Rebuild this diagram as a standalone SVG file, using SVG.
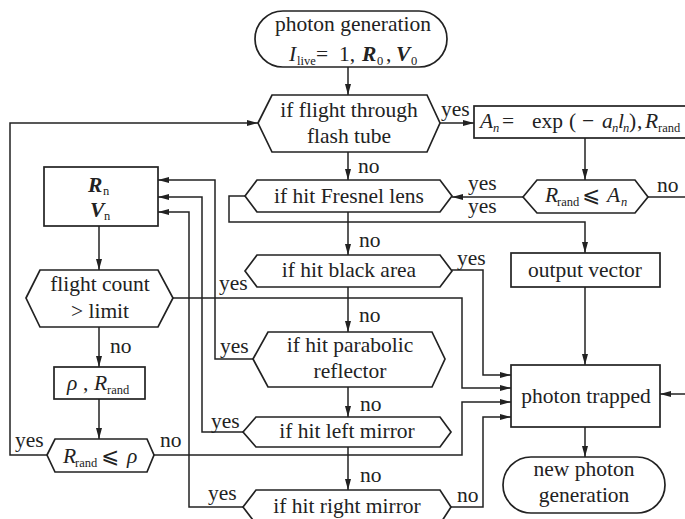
<svg xmlns="http://www.w3.org/2000/svg" width="685" height="519" viewBox="0 0 685 519">
<style>
text{font-family:"Liberation Serif","DejaVu Serif","DejaVu Sans",serif;font-size:21.5px;fill:#222}
.c{text-anchor:middle}
.i{font-style:italic}
.bi{font-style:italic;font-weight:bold}
.s{font-size:12.5px}
.shape{fill:#fff;stroke:#222;stroke-width:1.7}
.ln{fill:none;stroke:#222;stroke-width:1.5}
</style>
<defs>
<marker id="ah" markerUnits="userSpaceOnUse" markerWidth="11" markerHeight="7" refX="11" refY="3.5" orient="auto">
<path d="M0,0.5 L11,3.5 L0,6.5 z" fill="#222"/>
</marker>
</defs>
<rect width="685" height="519" fill="#fff"/>

<g id="connectors">
<path class="ln" d="M348,67 V95" marker-end="url(#ah)"/>
<path class="ln" d="M348,152 V180" marker-end="url(#ah)"/>
<path class="ln" d="M440,123 H474" marker-end="url(#ah)"/>
<path class="ln" d="M585,138 V180" marker-end="url(#ah)"/>
<path class="ln" d="M523,197 H452" marker-end="url(#ah)"/>
<path class="ln" d="M648,197 H685"/>
<path class="ln" d="M685,394 H660" marker-end="url(#ah)"/>
<path class="ln" d="M245,196 H229 V222 H585 V253" marker-end="url(#ah)"/>
<path class="ln" d="M348,212 V255" marker-end="url(#ah)"/>
<path class="ln" d="M452,270 H483 V375 H511" marker-end="url(#ah)"/>
<path class="ln" d="M348,287 V332" marker-end="url(#ah)"/>
<path class="ln" d="M253,359 H215 V180 H158" marker-end="url(#ah)"/>
<path class="ln" d="M348,387 V417" marker-end="url(#ah)"/>
<path class="ln" d="M243,432 H202 V197 H158" marker-end="url(#ah)"/>
<path class="ln" d="M348,447 V490" marker-end="url(#ah)"/>
<path class="ln" d="M243,507 H189 V212 H158" marker-end="url(#ah)"/>
<path class="ln" d="M451,507 H483 V417 H511" marker-end="url(#ah)"/>
<path class="ln" d="M99,226 V270" marker-end="url(#ah)"/>
<path class="ln" d="M173,298 H462 V388 H511" marker-end="url(#ah)"/>
<path class="ln" d="M99,327 V367" marker-end="url(#ah)"/>
<path class="ln" d="M99,399 V439" marker-end="url(#ah)"/>
<path class="ln" d="M154,455 H462 V402 H511" marker-end="url(#ah)"/>
<path class="ln" d="M47,455 H10 V123 H258" marker-end="url(#ah)"/>
<path class="ln" d="M585,287 V365" marker-end="url(#ah)"/>
<path class="ln" d="M585,427 V457" marker-end="url(#ah)"/>
<g id="labels">
<text x="358" y="173">no</text>
<text x="441" y="116">yes</text>
<text x="468" y="190">yes</text>
<text x="657" y="192">no</text>
<text x="468" y="213">yes</text>
<text x="359" y="247">no</text>
<text x="457" y="265">yes</text>
<text x="359" y="322">no</text>
<text x="220" y="353">yes</text>
<text x="360" y="411">no</text>
<text x="211" y="428">yes</text>
<text x="360" y="482">no</text>
<text x="208" y="500">yes</text>
<text x="457" y="502">no</text>
<text x="219" y="290">yes</text>
<text x="110" y="353">no</text>
<text x="160" y="447">no</text>
<text x="15" y="447">yes</text>
</g>
</g>

<g id="start">
<rect class="shape" x="255" y="11" width="192" height="56" rx="28" ry="28"/>
<text class="c" x="353" y="31">photon generation</text>
<text y="61"><tspan class="i" x="289">I</tspan><tspan class="s" x="297" dy="4">live</tspan><tspan x="316" dy="-4">=</tspan><tspan x="339">1,</tspan><tspan class="bi" x="362">R</tspan><tspan class="s" x="377" dy="4">0</tspan><tspan x="386" dy="-4">,</tspan><tspan class="bi" x="396">V</tspan><tspan class="s" x="411" dy="4">0</tspan></text>
</g>

<g id="flash-tube">
<polygon class="shape" points="258,123 272,95 427,95 440,123 427,152 272,152"/>
<text class="c" x="349" y="117">if flight through</text>
<text class="c" x="349" y="143">flash tube</text>
</g>

<g id="absorb">
<rect class="shape" x="474" y="106" width="230" height="32"/>
<text y="128"><tspan class="i" x="480">A</tspan><tspan class="s i" x="493" dy="4">n</tspan><tspan x="502" dy="-4">=</tspan><tspan x="532">exp</tspan><tspan x="569">(</tspan><tspan x="582">−</tspan><tspan class="i" x="602">a</tspan><tspan class="s i" x="612" dy="4">n</tspan><tspan class="i" x="618" dy="-4">l</tspan><tspan class="s i" x="623" dy="4">n</tspan><tspan x="629" dy="-4">)</tspan><tspan x="637">,</tspan><tspan class="i" x="645">R</tspan><tspan class="s" x="658" dy="4">rand</tspan></text>
</g>

<g id="cmp-an">
<polygon class="shape" points="523,197 537,180 635,180 648,197 635,213 537,213"/>
<text y="202"><tspan class="i" x="545">R</tspan><tspan class="s" x="557" dy="4">rand</tspan><tspan x="582" dy="-4">⩽</tspan><tspan class="i" x="607">A</tspan><tspan class="s i" x="621" dy="4">n</tspan></text>
</g>

<g id="fresnel">
<polygon class="shape" points="245,196 257,180 440,180 452,196 440,212 257,212"/>
<text class="c" x="349" y="203">if hit Fresnel lens</text>
</g>

<g id="black-area">
<polygon class="shape" points="245,271 257,255 440,255 452,271 440,287 257,287"/>
<text class="c" x="349" y="277">if hit black area</text>
</g>

<g id="parabolic">
<polygon class="shape" points="253,359 268,332 432,332 445,359 432,387 268,387"/>
<text class="c" x="350" y="352">if hit parabolic</text>
<text class="c" x="350" y="378">reflector</text>
</g>

<g id="left-mirror">
<polygon class="shape" points="243,432 256,417 440,417 451,432 440,447 256,447"/>
<text class="c" x="347" y="438">if hit left mirror</text>
</g>

<g id="right-mirror">
<polygon class="shape" points="243,507 256,490 440,490 451,507 440,524 256,524"/>
<text class="c" x="347" y="513">if hit right mirror</text>
</g>

<g id="rv">
<rect class="shape" x="44" y="167" width="114" height="59"/>
<text y="192"><tspan class="bi" x="88">R</tspan><tspan class="s" x="103" dy="3">n</tspan></text>
<text y="217"><tspan class="bi" x="90">V</tspan><tspan class="s" x="104" dy="3">n</tspan></text>
</g>

<g id="flight-count">
<polygon class="shape" points="26,298 40,270 158,270 173,298 158,327 40,327"/>
<text class="c" x="100" y="291">flight count</text>
<text class="c" x="100" y="318">&gt; limit</text>
</g>

<g id="rho">
<rect class="shape" x="54" y="367" width="91" height="32"/>
<text y="390"><tspan class="i" x="67">ρ</tspan><tspan x="83">,</tspan><tspan class="i" x="94">R</tspan><tspan class="s" x="107" dy="4">rand</tspan></text>
</g>

<g id="cmp-rho">
<polygon class="shape" points="47,455 55,439 147,439 154,455 147,472 55,472"/>
<text y="463"><tspan class="i" x="63">R</tspan><tspan class="s" x="75" dy="4">rand</tspan><tspan x="101" dy="-4">⩽</tspan><tspan class="i" x="127">ρ</tspan></text>
</g>

<g id="output-vector">
<rect class="shape" x="511" y="253" width="149" height="34"/>
<text class="c" x="585" y="277">output vector</text>
</g>

<g id="trapped">
<rect class="shape" x="511" y="365" width="149" height="62"/>
<text class="c" x="586" y="403">photon trapped</text>
</g>

<g id="new-photon">
<rect class="shape" x="503" y="457" width="162" height="56" rx="28" ry="28"/>
<text class="c" x="584" y="476">new photon</text>
<text class="c" x="584" y="502">generation</text>
</g>
</svg>
